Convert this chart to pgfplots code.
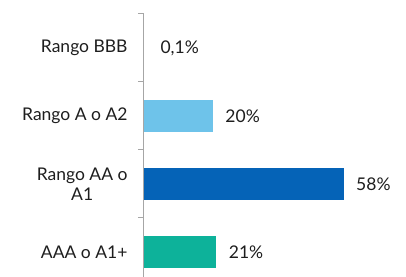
\documentclass[border=0pt]{standalone}
\usepackage{pgfplots}
\pgfplotsset{compat=1.18}
\usepackage{fontspec}
\setmainfont{Lato}
\definecolor{lblue}{HTML}{6EC3EA}
\definecolor{dblue}{HTML}{0563B7}
\definecolor{teal2}{HTML}{0DB29A}
\definecolor{axgray}{HTML}{A6A6A6}
\definecolor{txt}{HTML}{1E1E1E}
\begin{document}
\begin{tikzpicture}
\path[use as bounding box] (-144bp,0) rectangle (262bp,277bp);
\begin{axis}[
  xbar, bar width=32bp, bar shift=0pt,
  at={(0,0)}, anchor=south west,
  scale only axis,
  width=240.8bp, height=263bp,
  xmin=0, xmax=70,
  ymin=-0.368, ymax=3.5,
  axis x line=none,
  axis y line*=left,
  y axis line style={draw=axgray, line width=1bp, -},
  ytick={0.5,1.5,2.5,3.5},
  yticklabels={AAA o A1+, {Rango AA o\\A1}, Rango A o A2, Rango BBB},
  ytick align=outside,
  ytick style={draw=axgray, line width=1bp, /pgfplots/major tick length=6bp},
  yticklabel style={align=center, font=\fontsize{17.5bp}{19.5bp}\selectfont, text=txt, inner sep=0pt, xshift=-12bp, yshift=-34bp},
  point meta=explicit symbolic,
  nodes near coords,
  every node near coord/.append style={anchor=west, inner sep=0pt, xshift=12.5bp, font=\fontsize{17.5bp}{19.5bp}\selectfont, text=txt},
  clip=false,
]
\addplot[draw=none, fill=teal2] coordinates {(21,0) [21\%]};
\addplot[draw=none, fill=dblue] coordinates {(58,1) [58\%]};
\addplot[draw=none, fill=lblue] coordinates {(20,2) [20\%]};
\addplot[draw=none, fill=none, every node near coord/.append style={xshift=3.5bp}] coordinates {(0.1,3) [{0,1\%}]};
\pgfplotsinvokeforeach{0.5,1.5,2.5,3.5}{
  \draw[axgray, line width=1bp] (axis cs:0,#1) -- ([xshift=-6bp]axis cs:0,#1);
}
\end{axis}
\end{tikzpicture}
\end{document}
